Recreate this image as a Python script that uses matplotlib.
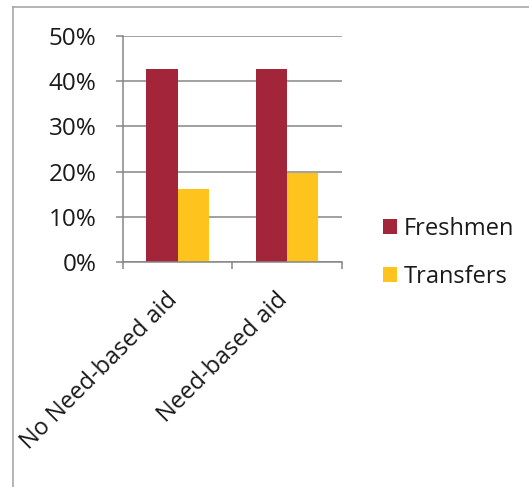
import numpy as np
import matplotlib.pyplot as plt
import matplotlib.transforms as mtransforms
from matplotlib.lines import Line2D
from matplotlib.ticker import FuncFormatter

# data
categories = ['No Need-based aid', 'Need-based aid']
freshmen = [42.6, 42.8]
transfers = [16.2, 19.7]
series_names = ['Freshmen', 'Transfers']
colors = ['#A2253A', '#FFC31D']
grid_color = '#868686'

plt.rcParams['font.family'] = ['Open Sans', 'DejaVu Sans']

fig = plt.figure(figsize=(5.29, 4.87), dpi=100)
ax = fig.add_axes([0.232, 0.462, 0.4145, 0.464])

x = np.arange(len(categories))
w = 0.285
ax.bar(x - w / 2, freshmen, w, color=colors[0], label=series_names[0], zorder=3)
ax.bar(x + w / 2, transfers, w, color=colors[1], label=series_names[1], zorder=3)

ax.set_xlim(-0.5, len(categories) - 0.5)
ax.set_ylim(0, 50)
ax.set_yticks(np.arange(0, 51, 10))
ax.yaxis.set_major_formatter(FuncFormatter(lambda v, p: f'{v:.0f}%'))
ax.grid(axis='y', color=grid_color, linewidth=1.1, zorder=0)

for s in ['top', 'right']:
    ax.spines[s].set_visible(False)
for s in ['left', 'bottom']:
    ax.spines[s].set_color(grid_color)
    ax.spines[s].set_linewidth(1.1)
    ax.spines[s].set_zorder(4)

ax.tick_params(axis='y', length=5, width=1.1, color=grid_color, pad=14,
               labelsize=17.5, labelcolor='#1a1a1a')

# category labels at centres, tick marks at the boundaries
ax.set_xticks(x)
ax.set_xticklabels(categories, rotation=45, ha='right', va='top',
                   fontsize=17, color='#1a1a1a')
ax.tick_params(axis='x', which='major', length=0, pad=19)
shift = mtransforms.ScaledTranslation(5 / 100, 0, fig.dpi_scale_trans)
for lbl in ax.get_xticklabels():
    lbl.set_transform(lbl.get_transform() + shift)
ax.set_xticks(np.arange(-0.5, len(categories), 1), minor=True)
ax.tick_params(axis='x', which='minor', length=5, width=1.1, color=grid_color)

ax.legend(loc='center left', bbox_to_anchor=(1.09, 0.04), frameon=False,
          fontsize=17, handlelength=0.6, handleheight=0.6, handletextpad=0.3,
          labelspacing=1.0, labelcolor='#1a1a1a')

# chart border (top and left only visible)
bx, by = 13 / 529, 1 - 7 / 487
fig.add_artist(Line2D([bx, bx], [0, by], color='#A0A0A0', linewidth=1.1,
                      transform=fig.transFigure))
fig.add_artist(Line2D([bx, 1], [by, by], color='#A0A0A0', linewidth=1.1,
                      transform=fig.transFigure))

plt.savefig('out.png', dpi=100)
